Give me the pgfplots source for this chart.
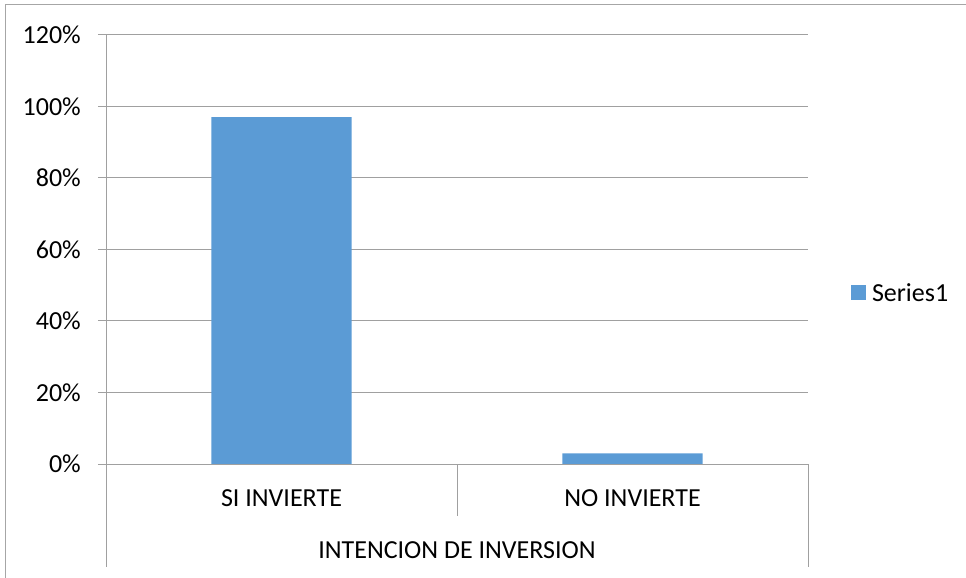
\documentclass[border=0pt]{standalone}
\usepackage{fontspec}
\setmainfont{Carlito}
\usepackage{pgfplots}
\pgfplotsset{compat=1.18}
\definecolor{barblue}{HTML}{5B9BD5}
\definecolor{gridgray}{HTML}{A0A0A0}
\definecolor{framegray}{HTML}{A6A6A6}
\newcommand{\chartfont}{\fontsize{26bp}{31bp}\selectfont}

\begin{document}
\begin{tikzpicture}
\useasboundingbox (0,0) rectangle (966bp,578bp);
% chart frame
\draw[framegray, line width=1bp] (5bp,0) -- (5bp,573bp) -- (966bp,573bp);

\begin{axis}[
  at={(106bp,114bp)}, anchor=south west,
  scale only axis, width=702bp, height=429bp,
  clip=false,
  xmin=-0.5, xmax=1.5,
  ymin=0, ymax=120,
  ytick={0,20,...,120},
  yticklabel={\pgfmathprintnumber{\tick}\%},
  /pgf/number format/assume math mode=true,
  xtick=\empty,
  axis x line=none,
  axis y line*=left,
  y axis line style={gridgray, line width=1bp, -},
  ymajorgrids,
  major grid style={gridgray, line width=1bp},
  tick align=outside,
  major tick length=8bp,
  ytick style={gridgray, line width=1bp},
  yticklabel style={font=\chartfont, anchor=east, inner sep=0pt, xshift=-17bp},
  legend style={draw=none, at={(1.061,0.399)}, anchor=west, inner sep=0pt,
    font=\chartfont, fill=none},
  legend image code/.code={\fill[barblue] (0bp,-7.5bp) rectangle (15bp,7.5bp);},
]
\addplot[ybar, bar width=0.4, fill=barblue, draw=none]
  coordinates {(0,97) (1,3)};
\addlegendentry{\hspace{4bp}Series1}

% category axis: baseline, divider between categories, outer group brackets
\draw[gridgray, line width=1bp] (axis cs:-0.5,0) -- (axis cs:1.5,0);
\draw[gridgray, line width=1bp] (axis cs:0.5,0) -- ([yshift=-52bp]axis cs:0.5,0);
\draw[gridgray, line width=1bp] (axis cs:-0.5,0) -- ([yshift=-103bp]axis cs:-0.5,0);
\draw[gridgray, line width=1bp] (axis cs:1.5,0) -- ([yshift=-103bp]axis cs:1.5,0);
\node[font=\chartfont] at ([yshift=-34bp]axis cs:0,0) {SI INVIERTE};
\node[font=\chartfont] at ([yshift=-34bp]axis cs:1,0) {NO INVIERTE};
\node[font=\chartfont] at ([yshift=-86bp]axis cs:0.5,0) {INTENCION DE INVERSION};
\end{axis}
\end{tikzpicture}
\end{document}
